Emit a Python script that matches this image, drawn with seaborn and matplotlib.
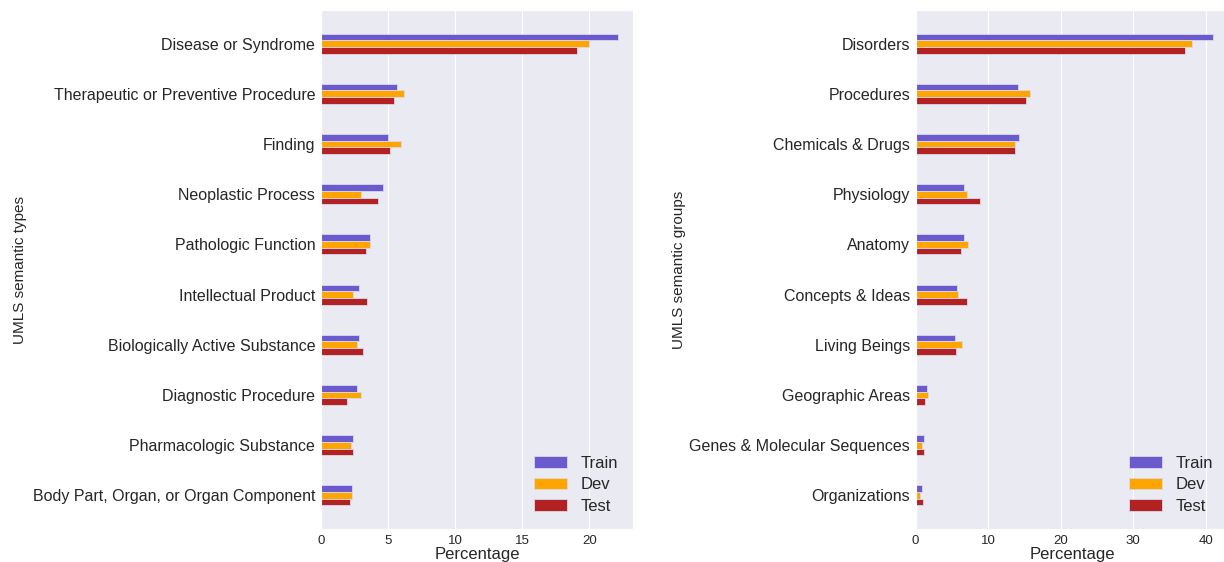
# Distribution of UMLS semantic types / groups over Train, Dev and Test
import pandas as pd
import seaborn as sns
import matplotlib.pyplot as plt

sns.set_style('darkgrid')
plt.rcParams['font.family'] = ['Liberation Sans', 'DejaVu Sans']

splits = ['Train', 'Dev', 'Test']
colors = ['slateblue', 'orange', 'firebrick']

# semantic types (left panel)
types = ['Disease or Syndrome', 'Therapeutic or Preventive Procedure', 'Finding',
         'Neoplastic Process', 'Pathologic Function', 'Intellectual Product',
         'Biologically Active Substance', 'Diagnostic Procedure',
         'Pharmacologic Substance', 'Body Part, Organ, or Organ Component']
types_train = [22.16, 5.66, 4.99, 4.62, 3.65, 2.85, 2.87, 2.70, 2.38, 2.35]
types_dev = [19.95, 6.18, 5.98, 2.98, 3.68, 2.38, 2.68, 3.02, 2.28, 2.35]
types_test = [19.06, 5.46, 5.18, 4.27, 3.35, 3.42, 3.17, 1.98, 2.38, 2.20]

# semantic groups (right panel)
groups = ['Disorders', 'Procedures', 'Chemicals & Drugs', 'Physiology', 'Anatomy',
          'Concepts & Ideas', 'Living Beings', 'Geographic Areas',
          'Genes & Molecular Sequences', 'Organizations']
groups_train = [41.06, 14.10, 14.20, 6.66, 6.62, 5.66, 5.38, 1.61, 1.10, 0.92]
groups_dev = [38.16, 15.72, 13.65, 7.08, 7.17, 5.89, 6.44, 1.70, 0.83, 0.55]
groups_test = [37.10, 15.20, 13.70, 8.83, 6.30, 7.08, 5.52, 1.33, 1.20, 1.06]


def to_long(cats, train, dev, test):
    df = pd.DataFrame({'cat': cats, 'Train': train, 'Dev': dev, 'Test': test})
    return df.melt('cat', var_name='split', value_name='pct')


fig = plt.figure(figsize=(12.24, 5.62), dpi=100)
ax1 = fig.add_axes([0.262, 0.0587, 0.2554, 0.9235])
ax2 = fig.add_axes([0.7481, 0.0587, 0.2554, 0.9235])

panels = [
    (ax1, to_long(types, types_train, types_dev, types_test), types, 'UMLS semantic types'),
    (ax2, to_long(groups, groups_train, groups_dev, groups_test), groups, 'UMLS semantic groups'),
]
for ax, df, order, ylab in panels:
    sns.barplot(data=df, x='pct', y='cat', hue='split', order=order,
                hue_order=splits, palette=colors, width=0.4, orient='h',
                saturation=1, linewidth=0.6, edgecolor='#d8d8ee', ax=ax)
    ax.set_ylim(9.67, -0.67)
    ax.set_xlabel('Percentage', fontsize=12, labelpad=0)
    ax.set_ylabel(ylab, fontsize=11)
    ax.tick_params(axis='y', labelsize=11.5, pad=0.5)
    ax.tick_params(axis='x', labelsize=9.5, pad=0.5)
    ax.legend(loc='lower right', fontsize=12, frameon=False, labelspacing=0.4)

ax1.set_xlim(0, 23.27)
ax2.set_xlim(0, 43.1)
ax1.yaxis.set_label_coords(-0.94, 0.5)
ax2.yaxis.set_label_coords(-0.735, 0.5)

fig.savefig('out.png', dpi=100)
